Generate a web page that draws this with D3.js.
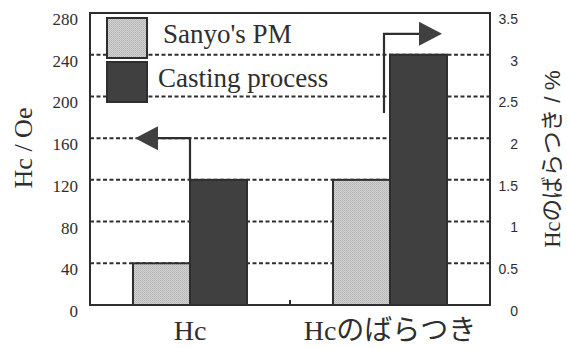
<!DOCTYPE html>
<html>
<head>
<meta charset="utf-8">
<script src="https://cdn.jsdelivr.net/npm/d3@7"></script>
<style>
  body { margin: 0; background: #fff; }
  svg { display: block; }
</style>
</head>
<body>
<div id="chart"></div>
<script>
const categories = ['Hc', 'Hcのばらつき']
const seriesNames = ["Sanyo's PM", 'Casting process']
const sanyoValues = [40, 1.5]
const castingValues = [120, 3.0]
const leftTicks = [0, 40, 80, 120, 160, 200, 240, 280]
const rightTicks = [0, 0.5, 1, 1.5, 2, 2.5, 3, 3.5]

const W = 567, H = 348
const M = { top: 13, right: 77, bottom: 43, left: 90 }
const DARK = '#404040', INK = '#2e2e2e'
const SERIF = "'Liberation Serif', 'DejaVu Serif', serif"
const SANS = "'Liberation Sans', Arial, sans-serif"
const CJK = "'Noto Sans CJK JP', sans-serif"

const svg = d3.select('#chart').append('svg')
  .attr('width', W)
  .attr('height', H)

const x = d3.scaleBand()
  .domain(categories)
  .range([M.left, W - M.right])
  .paddingInner(0.43)
  .paddingOuter(0.215)

const yL = d3.scaleLinear().domain([0, 280]).range([H - M.bottom, M.top])
const yR = d3.scaleLinear().domain([0, 3.5]).range([H - M.bottom, M.top])

// stipple pattern for the light bars
let pat = svg.append('defs').append('pattern')
  .attr('id', 'stip')
  .attr('width', 2).attr('height', 2)
  .attr('patternUnits', 'userSpaceOnUse')
pat.append('rect').attr('width', 2).attr('height', 2).attr('fill', '#d2d2d2')
pat.append('rect').attr('width', 1).attr('height', 1).attr('fill', '#b4b4b4')
pat.append('rect').attr('x', 1).attr('y', 1).attr('width', 1).attr('height', 1).attr('fill', '#bcbcbc')

// dashed grid
svg.append('g')
  .selectAll('line')
  .data(leftTicks.slice(1, -1))
  .enter().append('line')
    .attr('x1', M.left).attr('x2', W - M.right)
    .attr('y1', (d) => yL(d)).attr('y2', (d) => yL(d))
    .attr('stroke', INK)
    .attr('stroke-width', 2)
    .attr('stroke-dasharray', '4,2.5')

// bars
let bars = categories.map((c, i) => {
  let sc = i === 0 ? yL : yR
  return [
    { cat: c, k: 0, v: sanyoValues[i], sc: sc },
    { cat: c, k: 1, v: castingValues[i], sc: sc }
  ]
}).flat()

let bw = x.bandwidth() / 2
svg.append('g')
  .selectAll('rect')
  .data(bars)
  .enter().append('rect')
    .attr('x', (d) => x(d.cat) + d.k * bw)
    .attr('y', (d) => d.sc(d.v))
    .attr('width', bw)
    .attr('height', (d) => d.sc(0) - d.sc(d.v))
    .attr('fill', (d) => d.k === 0 ? 'url(#stip)' : DARK)
    .attr('stroke', INK)
    .attr('stroke-width', 2)

// frame
svg.append('rect')
  .attr('x', M.left).attr('y', M.top)
  .attr('width', W - M.left - M.right)
  .attr('height', H - M.top - M.bottom)
  .attr('fill', 'none')
  .attr('stroke', INK)
  .attr('stroke-width', 2)

// small tick between categories
let mid = (x(categories[0]) + x.bandwidth() + x(categories[1])) / 2
svg.append('line')
  .attr('x1', mid).attr('x2', mid)
  .attr('y1', yL(0)).attr('y2', yL(0) - 5)
  .attr('stroke', INK).attr('stroke-width', 2)

// left axis labels
svg.append('g')
  .selectAll('text')
  .data(leftTicks)
  .enter().append('text')
    .attr('font-family', SERIF)
    .attr('fill', INK)
    .attr('x', 78)
    .attr('y', (d) => yL(d) + 6)
    .attr('dy', '0.35em')
    .attr('text-anchor', 'end')
    .attr('font-size', 17)
    .text((d) => d)

// right axis labels
svg.append('g')
  .selectAll('text')
  .data(rightTicks)
  .enter().append('text')
    .attr('font-family', SANS)
    .attr('fill', INK)
    .attr('x', 518)
    .attr('y', (d) => yR(d) + 6)
    .attr('dy', '0.35em')
    .attr('text-anchor', 'end')
    .attr('font-size', 14)
    .text((d) => d)

// axis titles
svg.append('text')
  .attr('font-family', SERIF)
  .attr('fill', INK)
  .attr('transform', 'translate(23,148) rotate(-90)')
  .attr('text-anchor', 'middle')
  .attr('dy', '0.35em')
  .attr('font-size', 26)
  .text('Hc / Oe')

let rt = svg.append('text')
  .attr('transform', 'translate(552,159) rotate(-90)')
  .attr('text-anchor', 'middle')
  .attr('dy', '0.35em')
  .attr('font-size', 22.5)
  .attr('fill', INK)
rt.append('tspan').attr('font-family', SERIF).text('Hc')
rt.append('tspan').attr('font-family', CJK).text('のばらつき')
rt.append('tspan').attr('font-family', SANS).text(' / %')

// category labels
let cl = svg.append('g')
  .selectAll('text')
  .data(categories)
  .enter().append('text')
    .attr('x', (d) => x(d) + x.bandwidth() / 2)
    .attr('y', 340)
    .attr('text-anchor', 'middle')
    .attr('font-size', 28)
    .attr('fill', INK)
cl.append('tspan').attr('font-family', SERIF).text((d) => d.slice(0, 2))
cl.append('tspan').attr('font-family', CJK).text((d) => d.slice(2))

// legend
let lg = svg.append('g')
  .selectAll('g')
  .data(seriesNames)
  .enter().append('g')
    .attr('transform', (d, i) => 'translate(107,' + (18 + i * 44) + ')')
lg.append('rect')
  .attr('width', 40).attr('height', 40)
  .attr('fill', (d, i) => i === 0 ? 'url(#stip)' : DARK)
  .attr('stroke', INK)
  .attr('stroke-width', 2)
lg.append('text')
  .attr('font-family', SERIF)
  .attr('fill', INK)
  .attr('x', (d, i) => i === 0 ? 56 : 51)
  .attr('y', 25)
  .attr('font-size', 27)
  .text((d) => d)

// arrows
function arrow(pts, dir) {
  let last = pts[pts.length - 1]
  svg.append('path')
    .attr('d', d3.line()(pts))
    .attr('fill', 'none')
    .attr('stroke', INK)
    .attr('stroke-width', 2.2)
  let tip = [last[0] + dir * 23, last[1]]
  svg.append('path')
    .attr('d', d3.line()([[last[0], last[1] - 12], tip, [last[0], last[1] + 12]]) + 'Z')
    .attr('fill', DARK)
}

let c0 = x(categories[0]) + bw
arrow([[c0, yL(castingValues[0])], [c0, yL(160)], [c0 - 32, yL(160)]], -1)

let c1 = x(categories[1]) + bw - 6
arrow([[c1, yR(2.3)], [c1, yR(3.25)], [c1 + 35, yR(3.25)]], 1)
</script>
</body>
</html>
